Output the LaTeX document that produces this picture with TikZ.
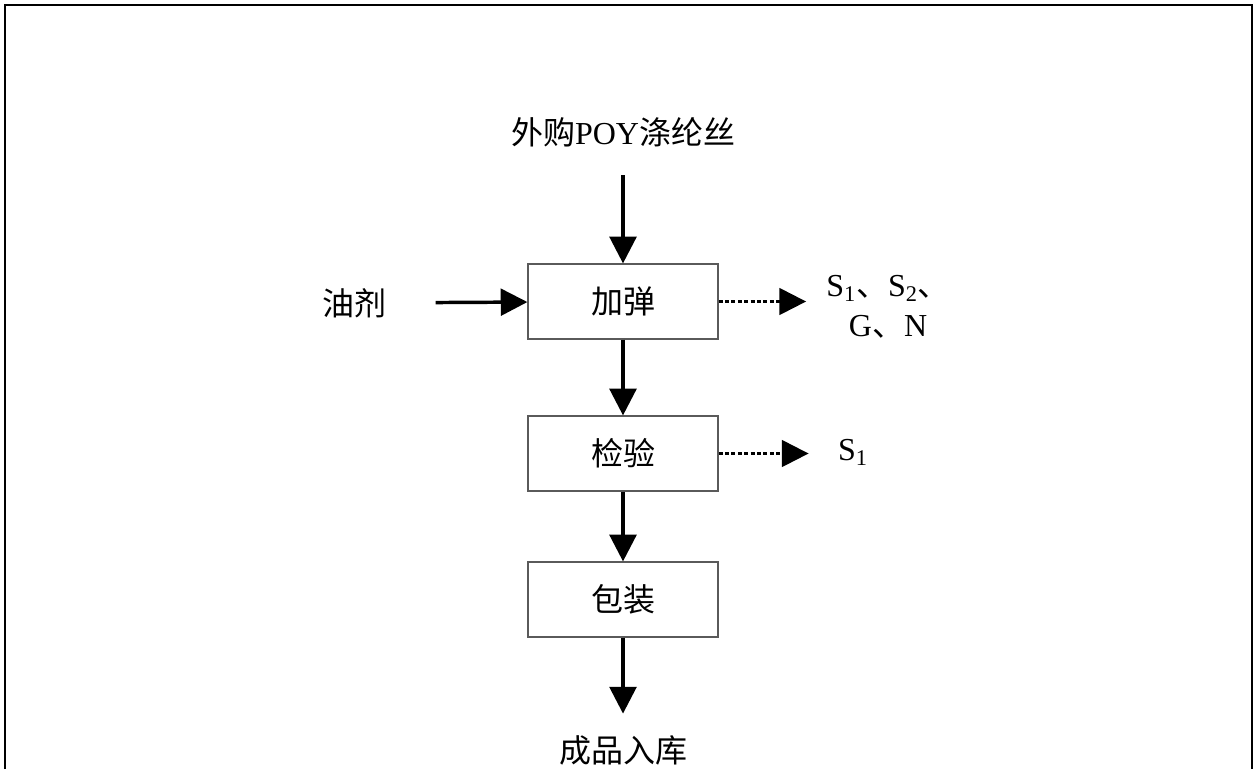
\documentclass[tikz,border=0pt]{standalone}
\usepackage{fontspec}
\setmainfont{Liberation Serif}
\newfontfamily\cjk{Noto Sans CJK SC}
\usetikzlibrary{arrows.meta}

\tikzset{
  stepbox/.style={draw={rgb,255:red,90;green,90;blue,90},line width=0.9pt,minimum width=142.5pt,minimum height=56.25pt,inner sep=0pt,font=\fontsize{24}{30}\selectfont\cjk},
  label text/.style={inner sep=0pt,font=\fontsize{24}{30}\selectfont},
  flow/.style={line width=2.6pt,-{Triangle[length=20pt,width=20pt]}},
  waste/.style={line width=1.8pt,dash pattern=on 3pt off 1.8pt,-{Triangle[length=20pt,width=20pt]}}
}

\begin{document}
\begin{tikzpicture}[x=0.75pt,y=0.75pt,yscale=-1,xscale=1]
        \useasboundingbox (0,0) rectangle (1255,769);

        %Frame: three sides, bottom cut off
        \draw [line width=1.8pt] (5,769) -- (5,5) -- (1252,5) -- (1252,769) ;

        % Process boxes
        \node [stepbox] (tex) at (623,301.5) {加弹};
        \node [stepbox] (insp) at (623,453.5) {检验};
        \node [stepbox] (pack) at (623,599.5) {包装};

        % Text Node
        \node [label text] (src) at (623,132) {{\cjk 外购}POY{\cjk 涤纶丝}};
        % Text Node
        \node [label text] (oil) at (354,303) {\cjk 油剂};
        % Text Node
        \node [label text] (store) at (623,750) {\cjk 成品入库};
        % Text Node
        \node [label text,align=center] (w1) at (888,307) {S\textsubscript{1}{\cjk 、}S\textsubscript{2}{\cjk 、}\\G{\cjk 、}N};
        % Text Node
        \node [label text] (w2) at (853,452) {S\textsubscript{1}};

        %Straight Lines
        \draw [flow,shorten <=21pt] (src) -- (tex) ;
        \draw [flow,shorten <=37pt] (oil) -- (tex) ;
        \draw [flow] (tex) -- (insp) ;
        \draw [flow] (insp) -- (pack) ;
        \draw [flow,shorten >=16pt] (pack) -- (store) ;

        %Dashed Lines
        \draw [waste,shorten >=15pt] (tex.east) -- (tex.east -| w1.west) ;
        \draw [waste,shorten >=22pt] (insp.east) -- (insp.east -| w2.west) ;

    \end{tikzpicture}
\end{document}
